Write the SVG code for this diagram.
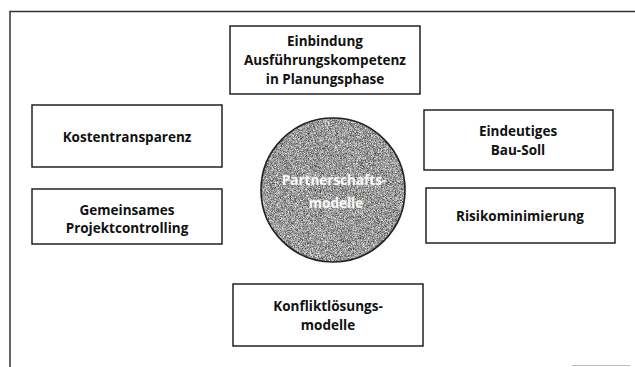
<svg xmlns="http://www.w3.org/2000/svg" width="635" height="367" viewBox="0 0 635 367">
<style>
.box{fill:#fff;stroke:#222;stroke-width:1.5}
.t{font-family:"Open Sans","Noto Sans","Liberation Sans",sans-serif;font-weight:700;font-size:13.5px;fill:#111;text-anchor:middle}
.c{font-family:"Open Sans","Noto Sans","Liberation Sans",sans-serif;font-weight:700;font-size:13.5px;fill:#fff;text-anchor:middle;stroke:#ddd;stroke-width:0.3}
.frame{stroke:#333;stroke-width:1.5;fill:none}
</style>
<defs>
<filter id="noise" x="0" y="0" width="100%" height="100%" color-interpolation-filters="sRGB">
<feTurbulence type="fractalNoise" baseFrequency="1.4" numOctaves="2" seed="5" result="n"/>
<feColorMatrix in="n" type="matrix" values="1.1 0 0 0 0.05  1.1 0 0 0 0.05  1.1 0 0 0 0.05  0 0 0 0 1"/>
</filter>
<clipPath id="cc"><circle cx="333" cy="190" r="72"/></clipPath>
</defs>
<rect width="635" height="367" fill="#fff"/>
<g id="frame">
<path class="frame" d="M10,367 V11.5 H635"/>
<line x1="572" y1="365.5" x2="630" y2="365.5" stroke="#bbb" stroke-width="1"/>
</g>
<g id="connectors"></g>
<g id="center">
<rect x="261" y="118" width="144" height="144" fill="#999" clip-path="url(#cc)" filter="url(#noise)"/>
<circle cx="333" cy="190" r="72" fill="none" stroke="#222" stroke-width="1.6"/>
<text class="c" x="334" y="185">Partnerschafts-</text>
<text class="c" x="336" y="208">modelle</text>
</g>
<g id="einbindung">
<rect class="box" x="230" y="26" width="190" height="68"/>
<text class="t" x="325" y="46">Einbindung</text>
<text class="t" x="325" y="65">Ausführungskompetenz</text>
<text class="t" x="325" y="84">in Planungsphase</text>
</g>
<g id="kostentransparenz">
<rect class="box" x="32" y="105" width="190" height="62"/>
<text class="t" x="127" y="142">Kostentransparenz</text>
</g>
<g id="projektcontrolling">
<rect class="box" x="32" y="189" width="190" height="55"/>
<text class="t" x="127" y="215">Gemeinsames</text>
<text class="t" x="127" y="233">Projektcontrolling</text>
</g>
<g id="bausoll">
<rect class="box" x="424" y="110" width="189" height="60"/>
<text class="t" x="518" y="136">Eindeutiges</text>
<text class="t" x="518" y="155">Bau-Soll</text>
</g>
<g id="risiko">
<rect class="box" x="426" y="188" width="189" height="55"/>
<text class="t" x="520" y="221">Risikominimierung</text>
</g>
<g id="konflikt">
<rect class="box" x="233" y="284" width="190" height="62"/>
<text class="t" x="328" y="311">Konfliktlösungs-</text>
<text class="t" x="328" y="330">modelle</text>
</g>
</svg>
